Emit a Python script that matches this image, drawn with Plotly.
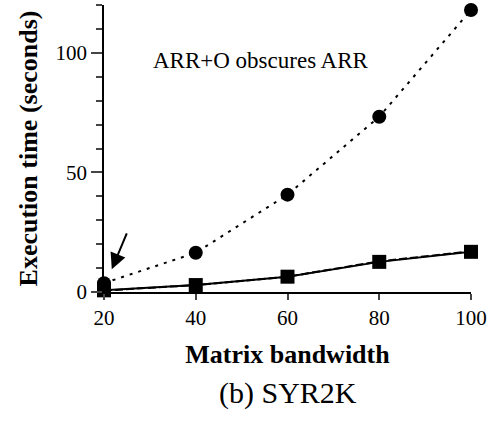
import plotly.graph_objects as go

bandwidth = [20, 40, 60, 80, 100]
arr_o_obscured = [3.7, 16.4, 40.7, 73.3, 117.9]   # dotted, circles
arr = [0.6, 2.9, 6.4, 12.8, 17.0]                 # dashed (under solid)
arr_o = [0.7, 2.9, 6.4, 12.6, 16.8]               # solid, squares

font = "Liberation Serif"

fig = go.Figure()
fig.add_trace(go.Scatter(x=bandwidth, y=arr_o_obscured, mode="lines+markers",
                         line=dict(color="black", width=2, dash="3px,6px"),
                         marker=dict(symbol="circle", size=14, color="black"),
                         cliponaxis=False, showlegend=False))
fig.add_trace(go.Scatter(x=bandwidth, y=arr, mode="lines",
                         line=dict(color="black", width=2, dash="8px,3px"),
                         cliponaxis=False, showlegend=False))
fig.add_trace(go.Scatter(x=bandwidth, y=arr_o, mode="lines+markers",
                         line=dict(color="black", width=2),
                         marker=dict(symbol="square", size=14, color="black"),
                         cliponaxis=False, showlegend=False))

fig.update_layout(
    width=491, height=423,
    margin=dict(l=104, r=20, t=5, b=131),
    paper_bgcolor="white", plot_bgcolor="white",
    font=dict(family=font, color="black", size=21),
    xaxis=dict(range=[20, 100], tickvals=bandwidth, ticks="outside", ticklen=6,
               tickwidth=1.5, showline=True, linecolor="black", linewidth=1.5,
               showgrid=False, zeroline=False,
               tickfont=dict(size=21),
               title=dict(text="<b>Matrix bandwidth</b>", font=dict(size=26), standoff=16)),
    yaxis=dict(range=[0, 120], tickvals=[0, 50, 100], ticks="outside", ticklen=11,
               tickwidth=1.5, showline=True, linecolor="black", linewidth=1.5,
               showgrid=False, zeroline=False,
               minor=dict(dtick=10, ticks="outside", ticklen=6, tickwidth=1.5, showgrid=False),
               tickfont=dict(size=21),
               title=dict(text="<b>Execution time (seconds)</b>", font=dict(size=26), standoff=10)),
    annotations=[
        dict(text="ARR+O obscures ARR", x=0.128, y=0.808, xref="paper", yref="paper",
             xanchor="left", yanchor="middle", showarrow=False, font=dict(size=23)),
        dict(text="(b) SYR2K", x=0.5, y=-0.352, xref="paper", yref="paper",
             xanchor="center", yanchor="middle", showarrow=False, font=dict(size=30)),
        dict(text="", x=21.7, y=9.5, ax=25.1, ay=25.1, xref="x", yref="y",
             axref="x", ayref="y", showarrow=True, arrowhead=2, arrowsize=1.6,
             arrowwidth=2, arrowcolor="black"),
    ],
)

fig.write_html("out.html")
